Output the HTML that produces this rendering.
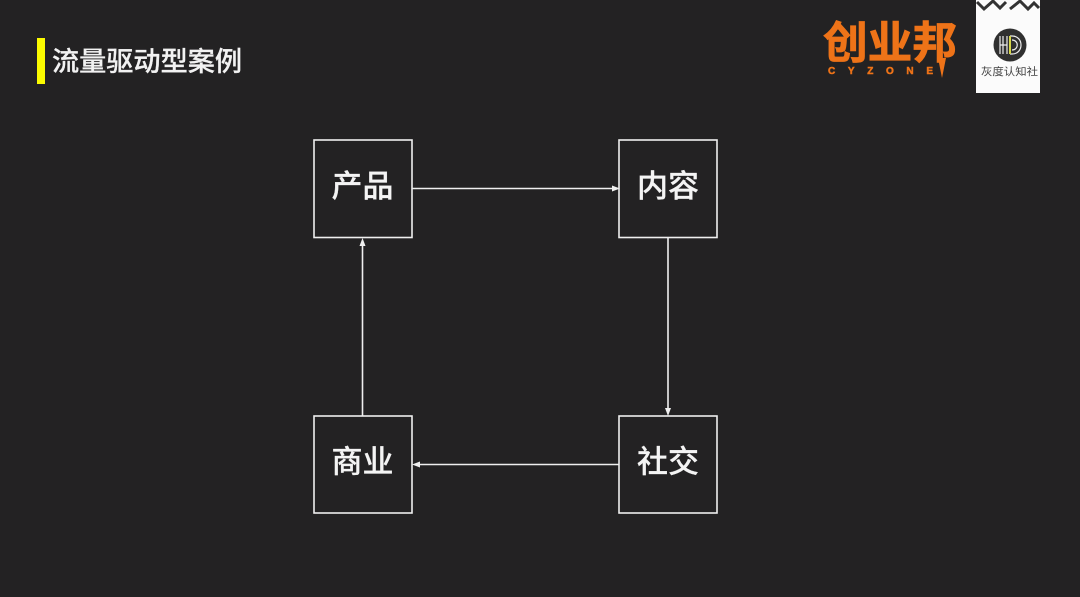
<!DOCTYPE html>
<html>
<head>
<meta charset="utf-8">
<style>
html,body{margin:0;padding:0;background:#232223;}
body{width:1080px;height:597px;overflow:hidden;}
svg{display:block;}
text{font-family:"Liberation Sans","Noto Sans CJK SC",sans-serif;}
</style>
</head>
<body>
<svg width="1080" height="597" viewBox="0 0 1080 597" xmlns="http://www.w3.org/2000/svg">
<rect width="1080" height="597" fill="#232223"/>
<rect x="37" y="38" width="8" height="46" fill="#fbfb00"/>
<text x="52" y="71" font-size="27" font-weight="500" fill="#f2f2f2" stroke="#f2f2f2" stroke-width="0.250" textLength="190" lengthAdjust="spacingAndGlyphs">流量驱动型案例</text>

<g fill="none" stroke="#efefef" stroke-width="1.600">
<rect x="314" y="140" width="98" height="97.500"/>
<rect x="619" y="140" width="98" height="97.500"/>
<rect x="314" y="416" width="98" height="97"/>
<rect x="619" y="416" width="98" height="97"/>
<path d="M412 188.500H613"/>
<path d="M668 237.500V410"/>
<path d="M619 464.500H418"/>
<path d="M362.500 416V244"/>
</g>
<g fill="#efefef">
<path d="M620 188.500L612 185.500V191.500Z"/>
<path d="M668 416L665 408H671Z"/>
<path d="M412 464.500L420 461.500V467.500Z"/>
<path d="M362.500 238L359.500 246H365.500Z"/>
</g>
<g font-size="31" font-weight="500" fill="#f4f4f4" stroke="#f4f4f4" stroke-width="0.250" text-anchor="middle">
<text x="362.500" y="197">产品</text>
<text x="668" y="197">内容</text>
<text x="362.500" y="472.500">商业</text>
<text x="668" y="472.500">社交</text>
</g>

<text x="823" y="58" font-size="44" font-weight="700" fill="#ee7318" stroke="#ee7318" stroke-width="0.800" textLength="134" lengthAdjust="spacingAndGlyphs">创业邦</text>
<text x="828" y="74" font-size="10" font-weight="700" fill="#ee7318" stroke="#ee7318" stroke-width="0.500" textLength="105" lengthAdjust="spacing">CYZONE</text>
<path d="M938 58H946L942 78Z" fill="#ee7318"/>

<rect x="976" y="0" width="64" height="93" fill="#fbfbfb"/>
<g fill="none" stroke="#333" stroke-width="3">
<path d="M977 2L984 9L993 1L1000 8L1006 2"/>
<path d="M1010 9L1020 1L1028 9L1034 3L1039 8"/>
</g>
<circle cx="1010" cy="45" r="16.500" fill="#303030"/>
<g fill="none" stroke="#eee" stroke-width="1.200">
<path d="M1000 36V54M1003 36V54M1007 36V54M1000 45H1007"/>
<path d="M1010 36H1012C1024 36 1024 54 1012 54H1010"/>
<path d="M1012 40C1019 40 1019 50 1012 50"/>
</g>
<path d="M1009 36H1011V54H1009Z" fill="#d8d84a"/>
<text x="1009.500" y="75" font-size="10.500" fill="#444" text-anchor="middle" textLength="57" lengthAdjust="spacingAndGlyphs">灰度认知社</text>
</svg>
</body>
</html>
